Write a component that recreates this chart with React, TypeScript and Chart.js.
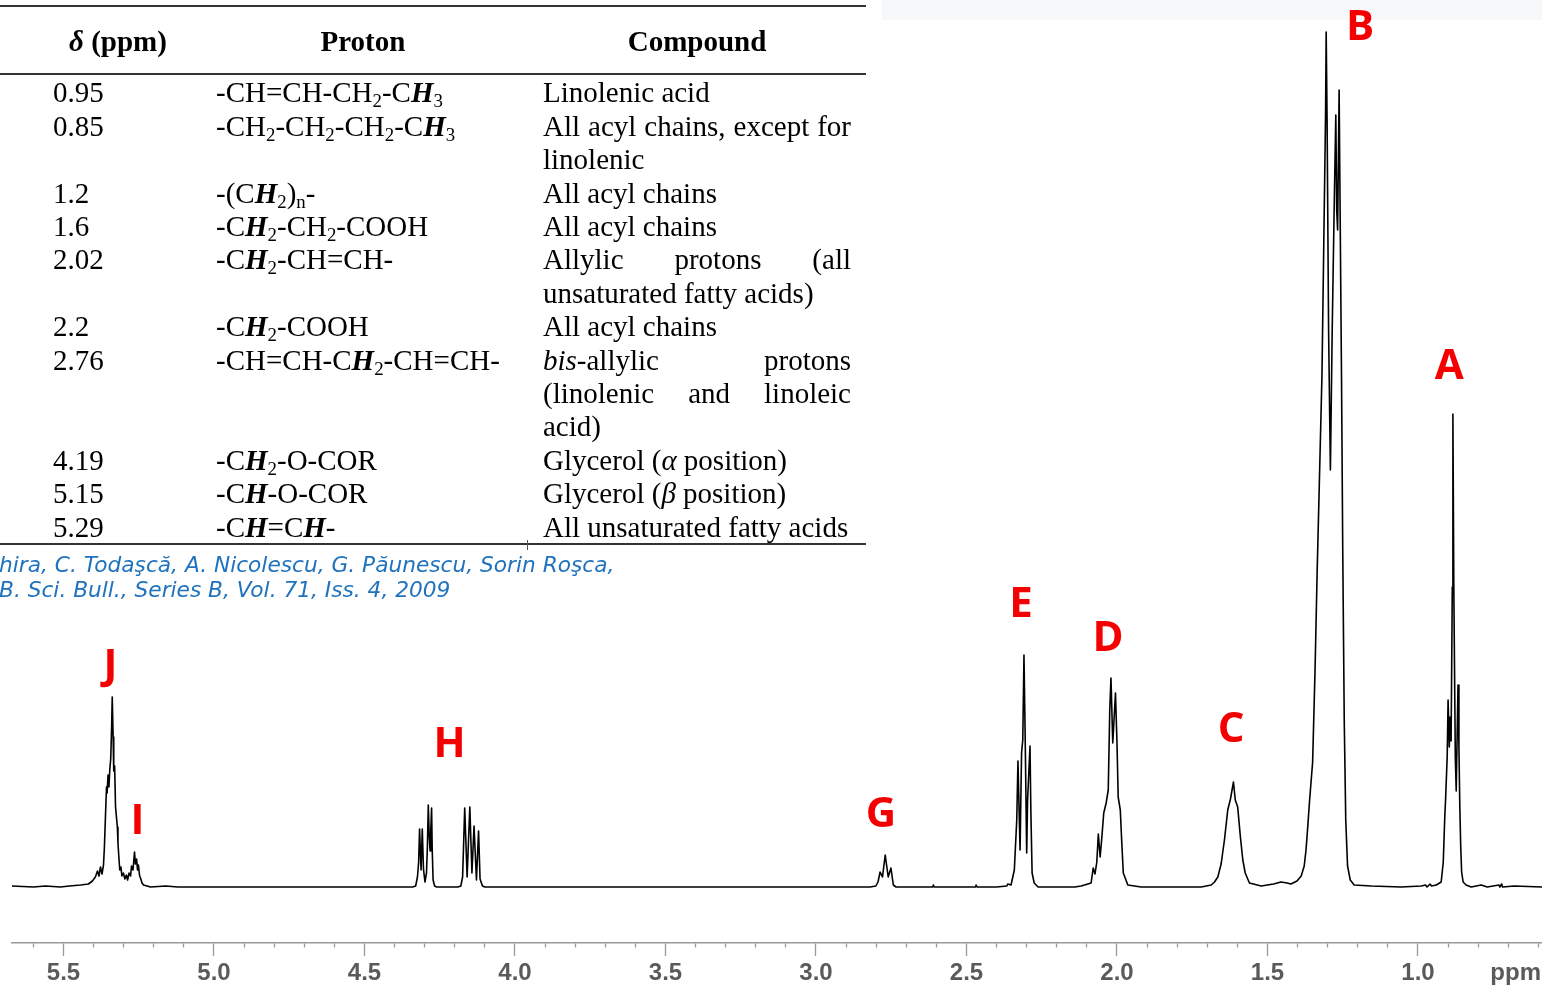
import React, { useEffect, useRef } from 'react';
import { Chart, registerables } from 'chart.js';

Chart.register(...registerables);

// ---- 1H NMR trace: [chemical shift δ (ppm), intensity], high → low ppm ----
const olefinicJI: [number, number][] = [
  [5.671, 1], [5.600, 0], [5.560, 1], [5.510, 0], [5.480, 1], [5.443, 2], [5.417, 3],
  [5.404, 6], [5.394, 10], [5.387, 16], [5.382, 11], [5.377, 20], [5.372, 13],
  [5.367, 22], [5.364, 40], [5.360, 75], [5.357, 100], [5.355, 94], [5.352, 112],
  [5.349, 100], [5.346, 118], [5.343, 128], [5.340, 160], [5.338, 190], [5.335, 150],
  [5.333, 116], [5.330, 121], [5.327, 80], [5.324, 70], [5.321, 60], [5.319, 44],
  [5.316, 30], [5.313, 17], [5.309, 20], [5.306, 11], [5.301, 14], [5.296, 8],
  [5.291, 12], [5.287, 7], [5.282, 14], [5.277, 11], [5.274, 21], [5.269, 17],
  [5.264, 35], [5.261, 23], [5.257, 28], [5.254, 17], [5.251, 22], [5.247, 11],
  [5.244, 9], [5.239, 4], [5.234, 2], [5.211, 0], [5.160, 1], [5.120, 0],
];

const glycerolH: [number, number][] = [
  [4.340, 0], [4.330, 1], [4.324, 10], [4.320, 25], [4.317, 58], [4.312, 17],
  [4.308, 58], [4.304, 18], [4.299, 5], [4.294, 14], [4.291, 40], [4.288, 82],
  [4.285, 52], [4.282, 36], [4.280, 55], [4.277, 79], [4.275, 38], [4.272, 7],
  [4.267, 1], [4.260, 0],
  [4.190, 0], [4.180, 1], [4.174, 10], [4.167, 79], [4.159, 10], [4.150, 80],
  [4.143, 14], [4.136, 61], [4.128, 7], [4.121, 56], [4.116, 8], [4.108, 1], [4.100, 0],
];

const bisAllylicG: [number, number][] = [
  [2.820, 0], [2.801, 1], [2.794, 5], [2.787, 15], [2.779, 10], [2.770, 32],
  [2.760, 10], [2.751, 19], [2.743, 2], [2.734, 0], [2.612, 0], [2.610, 2],
  [2.607, 0], [2.470, 0], [2.468, 2], [2.465, 0],
];

const carbonylE: [number, number][] = [
  [2.400, 0], [2.366, 1], [2.363, 3], [2.352, 2], [2.341, 17], [2.333, 67],
  [2.329, 126], [2.322, 37], [2.317, 134], [2.313, 147], [2.309, 232], [2.305, 150],
  [2.300, 34], [2.297, 87], [2.289, 141], [2.286, 74], [2.282, 14], [2.275, 4],
  [2.262, 0],
];

const allylicD: [number, number][] = [
  [2.140, 0], [2.119, 1], [2.086, 4], [2.079, 19], [2.073, 13], [2.067, 25],
  [2.062, 53], [2.056, 30], [2.051, 47], [2.044, 74], [2.036, 84], [2.029, 97],
  [2.024, 177], [2.020, 209], [2.014, 144], [2.005, 194], [2.000, 144], [1.996, 90],
  [1.989, 77], [1.984, 44], [1.979, 14], [1.964, 2], [1.920, 0],
];

const betaCarbonylC: [number, number][] = [
  [1.720, 0], [1.687, 2], [1.676, 5], [1.665, 10], [1.654, 23], [1.643, 47],
  [1.632, 77], [1.623, 88], [1.613, 105], [1.607, 87], [1.599, 80], [1.590, 50],
  [1.582, 27], [1.574, 14], [1.560, 4], [1.521, 1], [1.480, 3], [1.455, 5],
];

const methyleneB: [number, number][] = [
  [1.435, 4], [1.422, 3], [1.402, 6], [1.388, 11], [1.378, 21], [1.372, 37],
  [1.367, 57], [1.360, 87], [1.350, 125], [1.342, 217], [1.335, 315], [1.327, 413],
  [1.319, 512], [1.313, 643], [1.307, 774], [1.305, 855], [1.302, 767], [1.297, 557],
  [1.291, 417], [1.285, 557], [1.278, 687], [1.273, 772], [1.270, 677], [1.267, 657],
  [1.262, 797], [1.259, 687], [1.254, 507], [1.250, 337], [1.245, 167], [1.240, 67],
  [1.234, 21], [1.225, 7], [1.212, 2], [1.155, 1], [1.056, 0], [0.989, 1],
];

const methylA: [number, number][] = [
  [0.975, 2], [0.970, 0], [0.960, 3], [0.955, 1], [0.939, 2], [0.923, 5],
  [0.916, 25], [0.911, 70], [0.908, 90], [0.903, 130], [0.900, 187], [0.896, 140],
  [0.893, 170], [0.890, 146], [0.886, 300], [0.884, 473], [0.881, 300], [0.876, 130],
  [0.873, 96], [0.870, 150], [0.867, 202], [0.864, 140], [0.861, 80], [0.858, 40],
  [0.855, 15], [0.850, 5], [0.840, 2], [0.823, 0], [0.790, 2], [0.770, 0],
  [0.731, 2], [0.728, 0], [0.722, 3], [0.719, 0], [0.680, 1], [0.588, 0],
];

// Peak letters: shift and intensity level of the letter centre
const peakLabels = [
  { text: 'J', ppm: 5.344, level: 223 },
  { text: 'I', ppm: 5.254, level: 68 },
  { text: 'H', ppm: 4.217, level: 145 },
  { text: 'G', ppm: 2.784, level: 75 },
  { text: 'E', ppm: 2.319, level: 285 },
  { text: 'D', ppm: 2.030, level: 251 },
  { text: 'C', ppm: 1.621, level: 160 },
  { text: 'B', ppm: 1.192, level: 862 },
  { text: 'A', ppm: 0.896, level: 523 },
];

// ---- Assignment table ----
const headers = ['/δ/ (ppm)', 'Proton', 'Compound'];
const shifts = ['0.95', '0.85', '1.2', '1.6', '2.02', '2.2', '2.76', '4.19', '5.15', '5.29'];
const protons = [
  '-CH=CH-CH_2-C*H*_3',
  '-CH_2-CH_2-CH_2-C*H*_3',
  '-(C*H*_2)_n-',
  '-C*H*_2-CH_2-COOH',
  '-C*H*_2-CH=CH-',
  '-C*H*_2-COOH',
  '-CH=CH-C*H*_2-CH=CH-',
  '-C*H*_2-O-COR',
  '-C*H*-O-COR',
  '-C*H*=C*H*-',
];
const compounds = [
  ['Linolenic acid'],
  ['All acyl chains, except for', 'linolenic'],
  ['All acyl chains'],
  ['All acyl chains'],
  ['Allylic protons (all', 'unsaturated fatty acids)'],
  ['All acyl chains'],
  ['/bis/-allylic protons', '(linolenic and linoleic', 'acid)'],
  ['Glycerol (/α/ position)'],
  ['Glycerol (/β/ position)'],
  ['All unsaturated fatty acids'],
];
const citation = [
  'hira, C. Todaşcă, A. Nicolescu, G. Păunescu, Sorin Roşca,',
  'B. Sci. Bull., Series B, Vol. 71, Iss. 4, 2009',
];

const X_LEFT = 5.671;
const X_RIGHT = 0.588;
const Y_MIN = -56;
const Y_MAX = 887;

const TICK_FONT = { family: '"Liberation Sans", Arial, sans-serif', size: 24, weight: 'bold' as const };
const TICK_COLOR = '#5a5a5a';
const TICK_LEN = 13;
const TICK_PAD = 3;

const isMajor = (v: number) => Math.abs(v * 2 - Math.round(v * 2)) < 1e-6;

const spectrum = [
  ...olefinicJI, ...glycerolH, ...bisAllylicG, ...carbonylE,
  ...allylicD, ...betaCarbonylC, ...methyleneB, ...methylA,
].map(([x, y]) => ({ x, y }));

const labelPlugin = {
  id: 'peakLetters',
  afterDraw(chart: any) {
    const { ctx } = chart;
    const xs = chart.scales.x;
    const ys = chart.scales.y;
    ctx.save();
    ctx.font = 'bold 42px "Open Sans", sans-serif';
    ctx.fillStyle = '#f50000';
    ctx.textAlign = 'center';
    ctx.textBaseline = 'alphabetic';
    for (const l of peakLabels) {
      ctx.fillText(l.text, xs.getPixelForValue(l.ppm), ys.getPixelForValue(l.level) + 15);
    }
    // unit label at the right end of the axis
    ctx.font = `bold ${TICK_FONT.size}px ${TICK_FONT.family}`;
    ctx.fillStyle = TICK_COLOR;
    ctx.textAlign = 'right';
    ctx.textBaseline = 'middle';
    ctx.fillText('ppm', chart.chartArea.right - 1, xs.top + TICK_LEN + TICK_PAD + TICK_FONT.size * 0.6);
    ctx.restore();
  },
};

const serif = '"Liberation Serif", "Times New Roman", serif';
const LINE = 33.4;
const FIRST_LINE = 93;

const subStyle: React.CSSProperties = { fontSize: '0.65em', verticalAlign: '-0.25em', lineHeight: 0 };

function rich(src: string): React.ReactNode[] {
  const out: React.ReactNode[] = [];
  let buf = '';
  let bold = false;
  let ital = false;
  let k = 0;
  const flush = () => {
    if (!buf) return;
    out.push(
      <span key={k++} style={{ fontWeight: bold ? 700 : undefined, fontStyle: bold || ital ? 'italic' : undefined }}>
        {buf}
      </span>
    );
    buf = '';
  };
  for (let i = 0; i < src.length; i++) {
    const c = src[i];
    if (c === '*') { flush(); bold = !bold; continue; }
    if (c === '/') { flush(); ital = !ital; continue; }
    if (c === '_') { flush(); out.push(<sub key={k++} style={subStyle}>{src[i + 1]}</sub>); i++; continue; }
    buf += c;
  }
  flush();
  return out;
}

function lineStyle(center: number): React.CSSProperties {
  return {
    position: 'absolute',
    top: center - LINE / 2,
    height: LINE,
    lineHeight: `${LINE}px`,
    whiteSpace: 'nowrap',
  };
}

function AssignmentTable() {
  const rows: React.ReactNode[] = [];
  let line = 0;
  shifts.forEach((s, i) => {
    const c = FIRST_LINE + line * LINE;
    rows.push(<div key={`s${i}`} style={{ ...lineStyle(c), left: 53 }}>{s}</div>);
    rows.push(<div key={`p${i}`} style={{ ...lineStyle(c), left: 216 }}>{rich(protons[i])}</div>);
    const lines = compounds[i];
    lines.forEach((t, j) => {
      const cy = FIRST_LINE + (line + j) * LINE;
      const justify = j < lines.length - 1;
      rows.push(
        <div
          key={`c${i}_${j}`}
          style={{
            ...lineStyle(cy),
            left: 543,
            width: 308,
            whiteSpace: justify ? 'normal' : 'nowrap',
            textAlign: justify ? 'justify' : 'left',
            textAlignLast: justify ? 'justify' : 'auto',
          } as React.CSSProperties}
        >
          {rich(t)}
        </div>
      );
    });
    line += lines.length;
  });
  const headerCenters = [118, 363, 697];
  return (
    <div style={{ position: 'absolute', left: 0, top: 0, fontFamily: serif, fontSize: 29, color: '#000' }}>
      <div style={{ position: 'absolute', left: 0, top: 5, width: 866, height: 1.6, background: '#333' }} />
      {headers.map((h, i) => (
        <div key={h} style={{ ...lineStyle(42), left: headerCenters[i] - 150, width: 300, textAlign: 'center', fontWeight: 700 }}>
          {rich(h)}
        </div>
      ))}
      <div style={{ position: 'absolute', left: 0, top: 73, width: 866, height: 1.6, background: '#333' }} />
      {rows}
      <div style={{ position: 'absolute', left: 0, top: 543, width: 866, height: 1.6, background: '#333' }} />
      <div style={{ position: 'absolute', left: 527, top: 540, width: 1, height: 10, background: '#555' }} />
    </div>
  );
}

export default function App() {
  const ref = useRef<HTMLCanvasElement>(null);

  useEffect(() => {
    if (!ref.current) return;
    const chart = new Chart(ref.current, {
      type: 'line',
      data: {
        datasets: [
          {
            data: spectrum,
            borderColor: '#000',
            borderWidth: 1.6,
            borderJoinStyle: 'round',
            pointRadius: 0,
            tension: 0,
            fill: false,
          },
        ],
      },
      options: {
        animation: false,
        responsive: false,
        devicePixelRatio: 1,
        events: [],
        layout: { padding: { left: 12, right: 0, top: 0, bottom: 0 } },
        plugins: { legend: { display: false }, tooltip: { enabled: false } },
        scales: {
          x: {
            type: 'linear',
            reverse: true,
            min: X_RIGHT,
            max: X_LEFT,
            afterFit: (s: any) => { s.height = 45; },
            border: { display: true, color: '#999', width: 1.5 },
            grid: {
              drawOnChartArea: false,
              drawTicks: true,
              tickLength: TICK_LEN,
              tickColor: '#999',
              tickWidth: 1.3,
              tickBorderDash: (ctx: any) => (ctx.tick && isMajor(ctx.tick.value) ? [] : [4, 100]),
            },
            ticks: {
              stepSize: 0.1,
              autoSkip: false,
              includeBounds: false,
              maxRotation: 0,
              minRotation: 0,
              padding: TICK_PAD,
              color: TICK_COLOR,
              font: TICK_FONT,
              callback: (v: any) => {
                const n = Number(v);
                return isMajor(n) ? (Math.round(n * 2) / 2).toFixed(1) : '';
              },
            },
          },
          y: { display: false, min: Y_MIN, max: Y_MAX },
        },
      },
      plugins: [labelPlugin],
    } as any);
    return () => chart.destroy();
  }, []);

  return (
    <div style={{ position: 'absolute', left: 0, top: 0, width: 1542, height: 988, overflow: 'hidden', background: '#fff' }}>
      <div style={{ position: 'absolute', left: 882, top: 0, width: 660, height: 20, background: '#f7f8fa' }} />
      <canvas ref={ref} width={1542} height={988} style={{ position: 'absolute', left: 0, top: 0 }} />
      <AssignmentTable />
      <div
        style={{
          position: 'absolute',
          left: -1,
          top: 552,
          fontFamily: '"DejaVu Sans", Verdana, sans-serif',
          fontStyle: 'italic',
          fontSize: 21.7,
          lineHeight: '25px',
          color: '#1f72bd',
          whiteSpace: 'nowrap',
        }}
      >
        {citation.map((c) => (
          <div key={c}>{c}</div>
        ))}
      </div>
    </div>
  );
}
